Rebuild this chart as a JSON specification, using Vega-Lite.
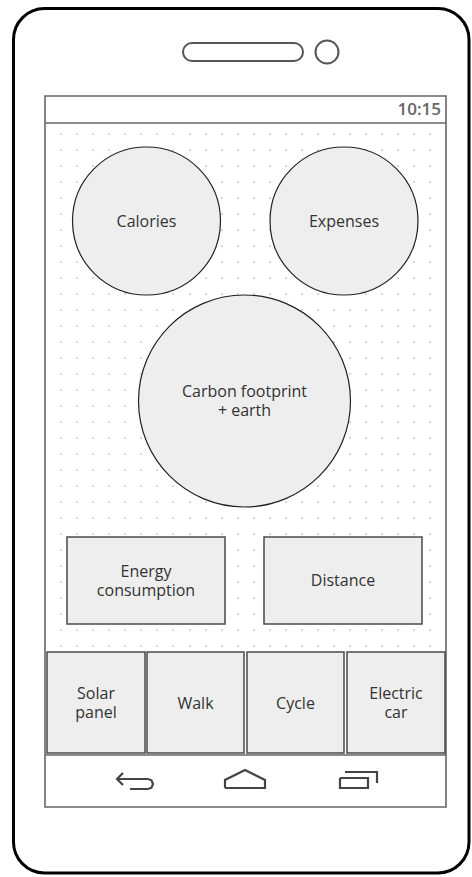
{
  "$schema": "https://vega.github.io/schema/vega-lite/v6.json",
  "width": 472,
  "height": 877,
  "padding": 0,
  "autosize": {"type": "none"},
  "background": "white",
  "config": {"view": {"stroke": null}},
  "datasets": {
    "phone": [{"part": "body", "x": 13.5, "x2": 469, "y": 8.5, "y2": 873}],
    "hardware": [
      {"part": "speaker", "x": 183, "x2": 303, "y": 43, "y2": 61},
      {"part": "camera", "x": 315.5, "x2": 338.5, "y": 40.5, "y2": 63.5}
    ],
    "screen": [{"part": "screen", "x": 45, "x2": 446, "y": 96, "y2": 807}],
    "dividers": [
      {"part": "status", "x": 45, "x2": 446, "y": 123},
      {"part": "nav", "x": 45, "x2": 446, "y": 755}
    ],
    "dotcols": [
      {"x": 61, "y": 133.2, "y2": 647}, {"x": 77, "y": 133.2, "y2": 647}, {"x": 93, "y": 133.2, "y2": 647},
      {"x": 109, "y": 133.2, "y2": 647}, {"x": 125, "y": 133.2, "y2": 647}, {"x": 141, "y": 133.2, "y2": 647},
      {"x": 157, "y": 133.2, "y2": 647}, {"x": 173, "y": 133.2, "y2": 647}, {"x": 190, "y": 133.2, "y2": 647},
      {"x": 206, "y": 133.2, "y2": 647}, {"x": 222, "y": 133.2, "y2": 647}, {"x": 238, "y": 133.2, "y2": 647},
      {"x": 254, "y": 133.2, "y2": 647}, {"x": 270, "y": 133.2, "y2": 647}, {"x": 286, "y": 133.2, "y2": 647},
      {"x": 302, "y": 133.2, "y2": 647}, {"x": 318, "y": 133.2, "y2": 647}, {"x": 334, "y": 133.2, "y2": 647},
      {"x": 350, "y": 133.2, "y2": 647}, {"x": 366, "y": 133.2, "y2": 647}, {"x": 382, "y": 133.2, "y2": 647},
      {"x": 398, "y": 133.2, "y2": 647}, {"x": 414, "y": 133.2, "y2": 647}, {"x": 430, "y": 133.2, "y2": 647}
    ],
    "circles": [
      {"name": "Calories", "x": 72.5, "x2": 220.5, "y": 147, "y2": 295},
      {"name": "Expenses", "x": 270, "x2": 418, "y": 147, "y2": 295},
      {"name": "Carbon", "x": 138.5, "x2": 350.5, "y": 295, "y2": 507}
    ],
    "boxes": [
      {"name": "Energy", "x": 67, "x2": 225, "y": 537, "y2": 624},
      {"name": "Distance", "x": 264, "x2": 422, "y": 537, "y2": 624},
      {"name": "Solar", "x": 47, "x2": 145, "y": 652, "y2": 753},
      {"name": "Walk", "x": 147, "x2": 244, "y": 652, "y2": 753},
      {"name": "Cycle", "x": 247, "x2": 344, "y": 652, "y2": 753},
      {"name": "Electric", "x": 347, "x2": 445, "y": 652, "y2": 753}
    ],
    "icons": [
      {"icon": "backhead", "ord": 1, "x": 123, "y": 773},
      {"icon": "backhead", "ord": 2, "x": 117, "y": 779},
      {"icon": "backhead", "ord": 3, "x": 123, "y": 785},
      {"icon": "back", "ord": 1, "x": 117, "y": 779},
      {"icon": "back", "ord": 2, "x": 148, "y": 779},
      {"icon": "back", "ord": 3, "x": 151.5, "y": 780.3},
      {"icon": "back", "ord": 4, "x": 153, "y": 784},
      {"icon": "back", "ord": 5, "x": 151.5, "y": 787.7},
      {"icon": "back", "ord": 6, "x": 148, "y": 789},
      {"icon": "back", "ord": 7, "x": 130, "y": 789},
      {"icon": "home", "ord": 1, "x": 225, "y": 788},
      {"icon": "home", "ord": 2, "x": 265, "y": 788},
      {"icon": "home", "ord": 3, "x": 265, "y": 780},
      {"icon": "home", "ord": 4, "x": 245, "y": 770},
      {"icon": "home", "ord": 5, "x": 225, "y": 780},
      {"icon": "home", "ord": 6, "x": 225, "y": 788},
      {"icon": "recentfront", "ord": 1, "x": 340, "y": 778},
      {"icon": "recentfront", "ord": 2, "x": 368, "y": 778},
      {"icon": "recentfront", "ord": 3, "x": 368, "y": 788},
      {"icon": "recentfront", "ord": 4, "x": 340, "y": 788},
      {"icon": "recentfront", "ord": 5, "x": 340, "y": 778},
      {"icon": "recentback", "ord": 1, "x": 345, "y": 772},
      {"icon": "recentback", "ord": 2, "x": 377, "y": 772},
      {"icon": "recentback", "ord": 3, "x": 377, "y": 783}
    ],
    "labels": [
      {"label": "Calories", "x": 146.5, "y": 222},
      {"label": "Expenses", "x": 344, "y": 222},
      {"label": "Carbon footprint\n+ earth", "x": 244.5, "y": 392},
      {"label": "Energy\nconsumption", "x": 146, "y": 572},
      {"label": "Distance", "x": 343, "y": 581},
      {"label": "Solar\npanel", "x": 96, "y": 694},
      {"label": "Walk", "x": 195.5, "y": 703.5},
      {"label": "Cycle", "x": 295.5, "y": 703.5},
      {"label": "Electric\ncar", "x": 396, "y": 694}
    ],
    "clock": [{"label": "10:15", "x": 441, "y": 110}]
  },
  "layer": [
    {
      "data": {"name": "phone"},
      "mark": {"type": "rect", "fill": "white", "stroke": "#000000", "strokeWidth": 3, "cornerRadius": 31},
      "encoding": {
        "x": {"field": "x", "type": "quantitative", "scale": {"domain": [0, 472], "nice": false, "zero": false}, "axis": null},
        "x2": {"field": "x2"},
        "y": {"field": "y", "type": "quantitative", "scale": {"domain": [0, 877], "nice": false, "zero": false, "reverse": true}, "axis": null},
        "y2": {"field": "y2"}
      }
    },
    {
      "data": {"name": "hardware"},
      "mark": {"type": "rect", "fill": "white", "stroke": "#555555", "strokeWidth": 2, "cornerRadius": 20},
      "encoding": {
        "x": {"field": "x", "type": "quantitative"},
        "x2": {"field": "x2"},
        "y": {"field": "y", "type": "quantitative"},
        "y2": {"field": "y2"}
      }
    },
    {
      "data": {"name": "screen"},
      "mark": {"type": "rect", "fill": "white", "stroke": "#666666", "strokeWidth": 1.6},
      "encoding": {
        "x": {"field": "x", "type": "quantitative"},
        "x2": {"field": "x2"},
        "y": {"field": "y", "type": "quantitative"},
        "y2": {"field": "y2"}
      }
    },
    {
      "data": {"name": "dividers"},
      "mark": {"type": "rule", "stroke": "#666666", "strokeWidth": 1.6},
      "encoding": {
        "x": {"field": "x", "type": "quantitative"},
        "x2": {"field": "x2"},
        "y": {"field": "y", "type": "quantitative"}
      }
    },
    {
      "data": {"name": "dotcols"},
      "mark": {"type": "rule", "stroke": "#cccccc", "strokeWidth": 1.8, "strokeDash": [1.8, 14.2]},
      "encoding": {
        "x": {"field": "x", "type": "quantitative"},
        "y": {"field": "y", "type": "quantitative"},
        "y2": {"field": "y2"}
      }
    },
    {
      "data": {"name": "circles"},
      "mark": {"type": "rect", "fill": "#eeeeee", "stroke": "#222222", "strokeWidth": 1.2, "cornerRadius": 200},
      "encoding": {
        "x": {"field": "x", "type": "quantitative"},
        "x2": {"field": "x2"},
        "y": {"field": "y", "type": "quantitative"},
        "y2": {"field": "y2"}
      }
    },
    {
      "data": {"name": "boxes"},
      "mark": {"type": "rect", "fill": "#eeeeee", "stroke": "#4a4a4a", "strokeWidth": 1.5},
      "encoding": {
        "x": {"field": "x", "type": "quantitative"},
        "x2": {"field": "x2"},
        "y": {"field": "y", "type": "quantitative"},
        "y2": {"field": "y2"}
      }
    },
    {
      "data": {"name": "icons"},
      "mark": {"type": "line", "stroke": "#444444", "strokeWidth": 2.2, "strokeJoin": "miter", "strokeCap": "butt"},
      "encoding": {
        "x": {"field": "x", "type": "quantitative"},
        "y": {"field": "y", "type": "quantitative"},
        "detail": {"field": "icon"},
        "order": {"field": "ord"}
      }
    },
    {
      "data": {"name": "labels"},
      "mark": {"type": "text", "font": "Open Sans", "fontSize": 16, "fill": "#333333", "lineBreak": "\n", "lineHeight": 19, "align": "center", "baseline": "middle"},
      "encoding": {
        "x": {"field": "x", "type": "quantitative"},
        "y": {"field": "y", "type": "quantitative"},
        "text": {"field": "label"}
      }
    },
    {
      "data": {"name": "clock"},
      "mark": {"type": "text", "font": "Open Sans", "fontSize": 17, "fontWeight": 600, "fill": "#666666", "align": "right", "baseline": "middle"},
      "encoding": {
        "x": {"field": "x", "type": "quantitative"},
        "y": {"field": "y", "type": "quantitative"},
        "text": {"field": "label"}
      }
    }
  ]
}
